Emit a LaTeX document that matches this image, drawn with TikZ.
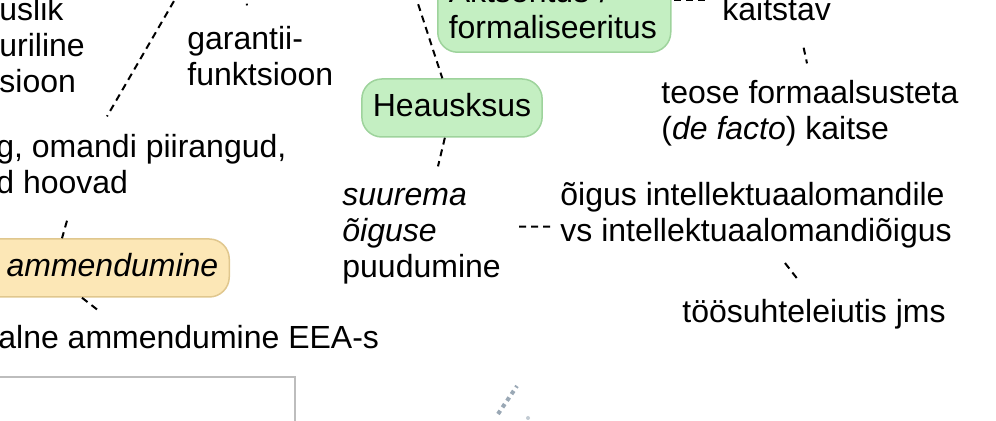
\documentclass[tikz,border=0pt]{standalone}
\usepackage{fontspec}
\setmainfont{Liberation Sans}
\usepackage{xcolor}
\usepackage{tikz}
\definecolor{pillgreen}{HTML}{C4EFC2}
\definecolor{pillgreenline}{HTML}{9ED39C}
\definecolor{pillorange}{HTML}{FCE7B6}
\definecolor{pillorangeline}{HTML}{E0C78E}
\definecolor{framegray}{HTML}{BDBDBD}
\definecolor{blurgray}{HTML}{9AA8B5}

\begin{document}
\begin{tikzpicture}[x=0.5pt,y=-0.5pt,
  every node/.style={font=\fontsize{16pt}{18pt}\selectfont, inner sep=0pt},
  txt/.style={anchor=base west, align=left},
  link/.style={line width=1pt, dash pattern=on 3.5pt off 2.5pt},
  greenbox/.style={draw=pillgreenline, fill=pillgreen, line width=0.75pt,
    rounded corners=10pt, inner xsep=5.5pt, inner ysep=6.5pt},
  pill/.style={text height=12.5pt, text depth=3.5pt},
  orangebox/.style={greenbox, draw=pillorangeline, fill=pillorange}]
\useasboundingbox (0,0) rectangle (996,421);
\clip (0,0) rectangle (996,421);

% left column (multi-line texts sit on their last baseline)
\node[txt] (lefttop) at (-1,93) {uslik\\uriline\\sioon};
\node[txt] (garant) at (187,86) {garantii-\\funktsioon};
\node[txt] (omandi) at (-4,194) {g, omandi piirangud,\\d hoovad};
\node[orangebox, pill, anchor=base east, text width=130pt, align=right] (amm) at (230,277) {\textit{ammendumine}};
\node[txt] (eea) at (-2,349) {alne ammendumine EEA-s};

% middle
\node[greenbox, anchor=south west, text width=105.5pt, align=left] (formal) at (437,53) {Aktsentus /\\formaliseeritus};
\node[greenbox, pill] (heaus) at (452,108) {Heausksus};
\node[txt] (suurema) at (342,278) {\textit{suurema}\\\textit{õiguse}\\puudumine};

% right
\node[txt] (kaitst) at (722,21) {kaitstav};
\node[txt] (teose) at (661,140) {teose formaalsusteta\\(\textit{de facto}) kaitse};
\node[txt] (oigus) at (560,242) {õigus intellektuaalomandile\\vs intellektuaalomandiõigus};
\node[txt] (toos) at (682,323) {töösuhteleiutis jms};

\coordinate (topA) at (192,-30);
\coordinate (topB) at (243,-20);
\coordinate (topC) at (407,-30);
\coordinate (fk) at (formal.east |- kaitst.north);

\draw[link] (topA) -- ([shift={(111,-18)}]omandi.north west);
\draw[link] (topB) -- ([shift={(60,-21)}]garant.north west);
\draw[link] (topC) -- (heaus);
\draw[link] (heaus) -- ([shift={(96,-22)}]suurema.north west);
\draw[link] ([shift={(71,26)}]omandi.south west) -- ([shift={(-168,0)}]amm.north east);
\draw[link] ([shift={(-148,0)}]amm.south east) -- ([shift={(99,-16)}]eea.north west);
\draw[link] ([shift={(2,3)}]fk) -- ([shift={(-15,3)}]kaitst.north west);
\draw[link] ([shift={(27,26)}]kaitst.south) -- ([shift={(146,-17)}]teose.north west);
\draw[link] ([shift={(18,-10)}]suurema.east) -- ([shift={(-10,11)}]oigus.west);
\draw[link] ([shift={(225,14)}]oigus.south west) -- ([shift={(115,-21)}]toos.north west);

% picture frame and blurred bit at the bottom
\draw[framegray, line width=0.6pt] (-5,377) -- (295,377) -- (295,430);
\draw[blurgray, line width=2pt, dotted] (498,414) -- (517,386);
\fill[blurgray!60] (528,418) circle (2);
\end{tikzpicture}
\end{document}
